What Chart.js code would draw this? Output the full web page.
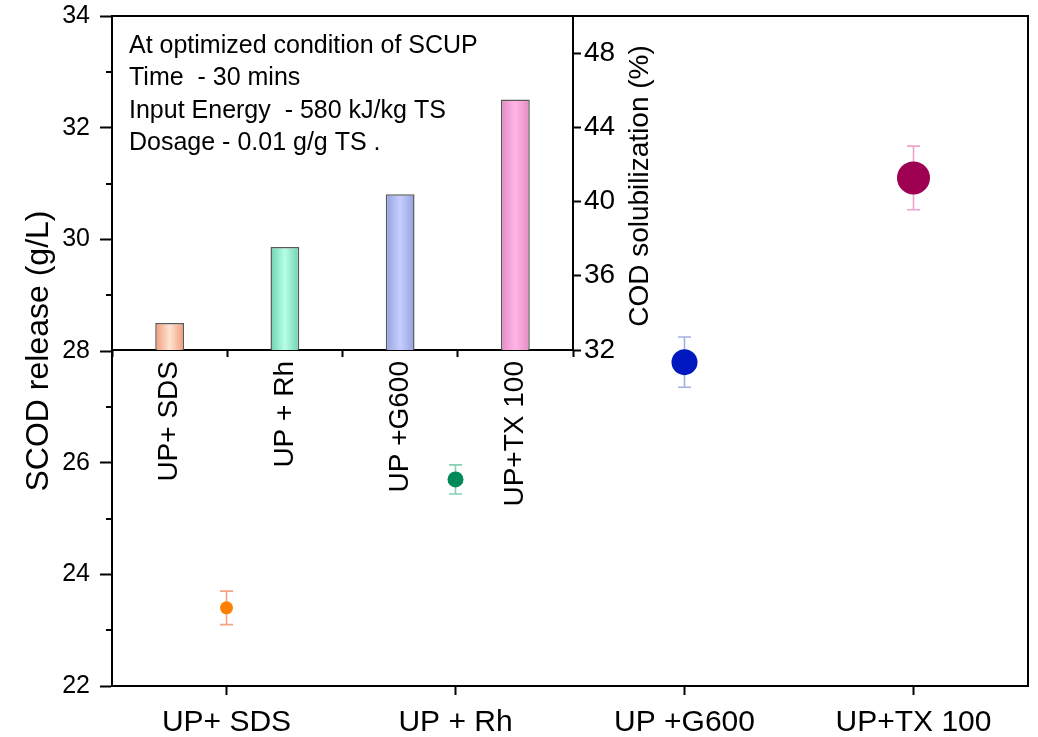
<!DOCTYPE html>
<html>
<head>
<meta charset="utf-8">
<script src="https://cdn.jsdelivr.net/npm/chart.js@4.4.1/dist/chart.umd.min.js"></script>
<style>
  html, body { margin: 0; padding: 0; background: #fff; }
  #wrap { position: relative; width: 1038px; height: 737px; }
  #wrap canvas { position: absolute; left: 0; top: 0; }
</style>
</head>
<body>
<div id="wrap">
  <canvas id="main" width="1038" height="737"></canvas>
  <canvas id="inset" width="1038" height="737"></canvas>
</div>
<script>
// categories (same for both panels)
const categories = ["UP+ SDS", "UP + Rh", "UP +G600", "UP+TX 100"];

// main panel: SCOD release (g/L) with error
const scodRelease = [23.4, 25.7, 27.8, 31.1];
const scodError = [0.3, 0.26, 0.45, 0.57];

// inset bars: COD solubilization (%)
const codSolubilization = [33.45, 37.55, 40.4, 45.5];

// axis ranges
const scodMin = 22, scodMax = 34, scodStep = 2;
const codMin = 32, codMax = 50, codStep = 4, codLastTick = 48;

const noteLines = [
  "At optimized condition of SCUP",
  "Time  - 30 mins",
  "Input Energy  - 580 kJ/kg TS",
  "Dosage - 0.01 g/g TS ."
];

// styles
const FONT = "'Liberation Sans', Arial, sans-serif";
Chart.defaults.font.family = FONT;
Chart.defaults.color = "#000";
const pointColors = ["#ff8000", "#008a5a", "#0018c0", "#9e0052"];
const errColors = ["#f4a484", "#82d2b2", "#a4b2e2", "#f0a2cc"];
const pointSizes = [6.5, 8, 13, 16.5];
const barEdge = ["#f29a76", "#6ed2ae", "#92a2dc", "#e48ac4"];
const barMid = ["#fde4d2", "#b6ffe8", "#c6ceff", "#ffb6e6"];

// keep the plot box exactly where the layout padding puts it
function noPad(s) {
  s.paddingTop = 0; s.paddingBottom = 0; s.paddingLeft = 0; s.paddingRight = 0;
}

const frame = {
  id: "frame",
  afterDraw(chart) {
    const { ctx, chartArea: a } = chart;
    ctx.save();
    ctx.strokeStyle = "#000";
    ctx.lineWidth = 2;
    ctx.beginPath();
    ctx.moveTo(a.left, a.top);
    ctx.lineTo(a.right, a.top);
    ctx.lineTo(a.right, a.bottom);
    ctx.stroke();
    ctx.restore();
  }
};

const minorTicks = {
  id: "minorTicks",
  afterDraw(chart) {
    const { ctx, chartArea: a } = chart;
    const y = chart.scales.y;
    ctx.save();
    ctx.strokeStyle = "#000";
    ctx.lineWidth = 2;
    for (let v = scodMin + scodStep / 2; v < scodMax; v += scodStep) {
      const py = Math.round(y.getPixelForValue(v));
      ctx.beginPath();
      ctx.moveTo(a.left - 6, py);
      ctx.lineTo(a.left, py);
      ctx.stroke();
    }
    ctx.restore();
  }
};

const errorBars = {
  id: "errorBars",
  beforeDatasetsDraw(chart) {
    const { ctx } = chart;
    const x = chart.scales.x, y = chart.scales.y;
    ctx.save();
    ctx.lineWidth = 1.6;
    scodRelease.forEach((v, i) => {
      const px = x.getPixelForValue(i);
      const top = y.getPixelForValue(v + scodError[i]);
      const bot = y.getPixelForValue(v - scodError[i]);
      ctx.strokeStyle = errColors[i];
      ctx.beginPath();
      ctx.moveTo(px, top); ctx.lineTo(px, bot);
      ctx.moveTo(px - 6.5, top); ctx.lineTo(px + 6.5, top);
      ctx.moveTo(px - 6.5, bot); ctx.lineTo(px + 6.5, bot);
      ctx.stroke();
    });
    ctx.restore();
  }
};

new Chart(document.getElementById("main"), {
  type: "line",
  data: {
    labels: categories,
    datasets: [{
      data: scodRelease,
      showLine: false,
      pointRadius: pointSizes,
      pointBackgroundColor: pointColors,
      pointBorderColor: pointColors,
      pointBorderWidth: 0
    }]
  },
  options: {
    responsive: false,
    animation: false,
    events: [],
    layout: { autoPadding: false, padding: { top: 16, right: 10, left: 0, bottom: 0 } },
    plugins: { legend: { display: false }, tooltip: { enabled: false } },
    scales: {
      x: {
        offset: true,
        grid: { drawOnChartArea: false, tickLength: 9, tickWidth: 2, tickColor: "#000" },
        border: { color: "#000", width: 2 },
        ticks: { font: { size: 30 }, color: "#000", padding: 10, maxRotation: 0, autoSkip: false },
        afterFit: s => { s.height = 51; noPad(s); }
      },
      y: {
        min: scodMin,
        max: scodMax,
        grid: { drawOnChartArea: false, tickLength: 12, tickWidth: 2, tickColor: "#000" },
        border: { color: "#000", width: 2 },
        ticks: { stepSize: scodStep, font: { size: 25 }, color: "#000", padding: 10 },
        title: { display: true, text: "SCOD release (g/L)", font: { size: 32 }, color: "#000", padding: { top: 20, bottom: 0 } },
        afterFit: s => { s.width = 112; noPad(s); }
      }
    }
  },
  plugins: [frame, minorTicks, errorBars]
});

const insetText = {
  id: "insetText",
  afterDraw(chart) {
    const { ctx, chartArea: a } = chart;
    ctx.save();
    ctx.fillStyle = "#000";
    ctx.font = "25px " + FONT;
    ctx.textAlign = "left";
    ctx.textBaseline = "alphabetic";
    noteLines.forEach((t, i) => ctx.fillText(t, a.left + 17, a.top + 37 + i * 32.3));
    // right axis title, reading bottom to top
    ctx.font = "28px " + FONT;
    ctx.textAlign = "center";
    ctx.textBaseline = "middle";
    ctx.translate(a.right + 67, (a.top + a.bottom) / 2 + 3);
    ctx.rotate(-Math.PI / 2);
    ctx.fillText("COD solubilization (%)", 0, 0);
    ctx.restore();
  }
};

function barGradient(c) {
  const i = c.dataIndex;
  const xs = c.chart.scales.x;
  if (!xs || c.type !== "data" || !xs.width) return barMid[i];
  const cx = xs.getPixelForValue(i);
  const w = (xs.width / categories.length) * 0.25;
  const g = c.chart.ctx.createLinearGradient(cx - w / 2, 0, cx + w / 2, 0);
  g.addColorStop(0, barEdge[i]);
  g.addColorStop(0.5, barMid[i]);
  g.addColorStop(1, barEdge[i]);
  return g;
}

new Chart(document.getElementById("inset"), {
  type: "bar",
  data: {
    labels: categories,
    datasets: [{
      data: codSolubilization,
      backgroundColor: barGradient,
      borderColor: "#5a5a5a",
      borderWidth: 1.5,
      barPercentage: 0.25,
      categoryPercentage: 1
    }]
  },
  options: {
    responsive: false,
    animation: false,
    events: [],
    layout: { autoPadding: false, padding: { left: 112, top: 16, right: 365, bottom: 0 } },
    plugins: { legend: { display: false }, tooltip: { enabled: false } },
    scales: {
      x: {
        grid: { drawOnChartArea: false, tickLength: 7, tickWidth: 2, tickColor: "#000" },
        border: { color: "#000", width: 2 },
        ticks: { font: { size: 28 }, color: "#000", minRotation: 90, maxRotation: 90, padding: 4, autoSkip: false },
        afterFit: s => { s.height = 387; noPad(s); }
      },
      y: {
        position: "right",
        min: codMin,
        max: codMax,
        afterBuildTicks: s => { s.ticks = s.ticks.filter(t => t.value <= codLastTick); },
        grid: { drawOnChartArea: false, tickLength: 8, tickWidth: 2, tickColor: "#000" },
        border: { color: "#000", width: 2 },
        ticks: { stepSize: codStep, font: { size: 28 }, color: "#000", padding: 3 },
        afterFit: s => { s.width = 100; noPad(s); }
      }
    }
  },
  plugins: [insetText]
});
</script>
</body>
</html>
